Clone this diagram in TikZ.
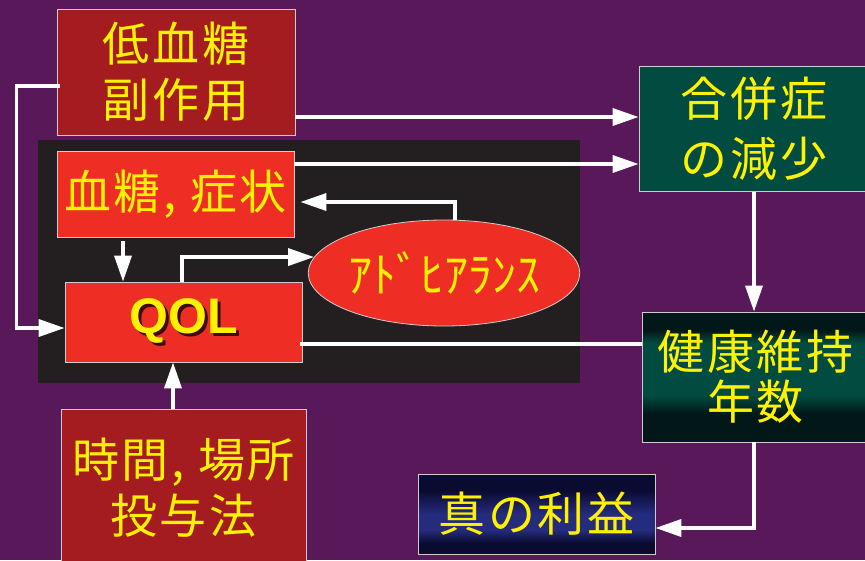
\documentclass[tikz,border=0pt]{standalone}
\usepackage{fontspec}
\usepackage{tikz}
\usetikzlibrary{arrows.meta,shapes.geometric}
\newfontfamily\jpfont{Noto Sans CJK JP}[LetterSpace=6]
\newfontfamily\kanafont{Noto Sans CJK JP}
\newfontfamily\qolfont{Liberation Sans}
\definecolor{bgpurple}{RGB}{88,24,90}
\definecolor{darkred}{RGB}{165,28,32}
\definecolor{brightred}{RGB}{238,46,36}
\definecolor{panelblack}{RGB}{35,31,32}
\definecolor{tealbox}{RGB}{1,75,65}
\definecolor{tealdark}{RGB}{2,24,24}
\definecolor{navydark}{RGB}{10,11,48}
\definecolor{navymid}{RGB}{37,43,125}
\definecolor{textyellow}{RGB}{255,242,0}
\definecolor{edgegray}{RGB}{205,205,205}
\definecolor{qolshade}{RGB}{60,10,10}
\pgfdeclareverticalshading{kenkoushade}{100bp}{color(0bp)=(tealdark); color(25bp)=(tealdark); color(36bp)=(tealdark); color(43bp)=(tealbox); color(63bp)=(tealbox); color(68bp)=(tealdark); color(100bp)=(tealdark)}
\pgfdeclareverticalshading{riekishade}{100bp}{color(0bp)=(navydark); color(25bp)=(navydark); color(32bp)=(navydark); color(40bp)=(navymid); color(50bp)=(navymid); color(65bp)=(navydark); color(100bp)=(navydark)}
\newcommand{\shadowed}[1]{\makebox[0pt][l]{\hspace{3pt}\raisebox{-3pt}{\color{qolshade}#1}}#1}

\begin{document}
\begin{tikzpicture}[x=1pt,y=-1pt,>={Triangle[length=26pt,width=17pt]},
    box/.style={draw=edgegray,line width=0.8pt,inner sep=0pt,text=textyellow,align=center,
        font=\jpfont\fontsize{47pt}{56pt}\selectfont},
    conn/.style={draw=white,line width=3.6pt}]
        \fill[bgpurple] (0,0) rectangle (865,560);
        \useasboundingbox (0,0) rectangle (865,560);
        \clip (0,0) rectangle (865,560);
        \node[fill=panelblack,minimum width=542pt,minimum height=243pt,inner sep=0pt] (panel) at (309,261.5) {};
        \node[box,fill=darkred,minimum width=238pt,minimum height=126pt] (fuku) at (176,72) {低血糖\\副作用};
        \node[box,fill=brightred,minimum width=237pt,minimum height=86pt] (kettou) at (175.5,194) {血糖, 症状};
        \node[box,fill=brightred,minimum width=237pt,minimum height=80pt,font=\qolfont\bfseries\fontsize{50pt}{56pt}\selectfont] (qol) at (183.5,322) {\shadowed{QOL}};
        \node[box,ellipse,fill=brightred,minimum width=248pt,minimum height=106pt,font=\kanafont\fontsize{48pt}{56pt}\selectfont] (adh) at (444,273) {ｱﾄﾞﾋｱﾗﾝｽ};
        \node[box,fill=darkred,minimum width=245pt,minimum height=158pt] (jikan) at (183.5,488) {時間, 場所\\投与法};
        \node[box,fill=tealbox,minimum width=230pt,minimum height=125pt] (heishou) at (754,129) {合併症\\[4pt]の減少};
        \node[box,shading=kenkoushade,minimum width=227pt,minimum height=130pt] (kenkou) at (755.5,377) {健康維持\\[-6pt]年数};
        \node[box,shading=riekishade,minimum width=237pt,minimum height=80pt] (rieki) at (536.5,514) {真の利益};
        % connectors
        \draw[conn,->] ([yshift=-45pt]fuku.east) -- ([yshift=-45pt]fuku.east -| heishou.west);
        \draw[conn,->] ([yshift=30pt]kettou.east) -- ([yshift=30pt]kettou.east -| heishou.west);
        \draw[conn,->,shorten <=4pt] ([xshift=-52.5pt]kettou.south) -- ([xshift=-52.5pt]kettou.south |- qol.north);
        \draw[conn,->] ([xshift=-1.5pt]qol.north) |- (adh.173);
        \draw[conn,->,shorten >=6pt] ([xshift=11pt]adh.north) |- ([yshift=-8pt]kettou.east);
        \draw[conn,->] ([yshift=-14pt,xshift=3pt]fuku.west) -- ++(-43pt,0) |- ([yshift=-6pt]qol.west);
        \draw[conn,->] ([xshift=-10.5pt]jikan.north) -- ([xshift=-10.5pt]jikan.north |- qol.south);
        \draw[conn] ([yshift=-22pt,xshift=-2pt]qol.east) -- ([yshift=-22pt]qol.east -| kenkou.west);
        \draw[conn,->] (heishou.south) -- (heishou.south |- kenkou.north);
        \draw[conn,->] ([xshift=-1.5pt]kenkou.south) |- ([yshift=-14pt]rieki.east);
    \end{tikzpicture}
\end{document}
